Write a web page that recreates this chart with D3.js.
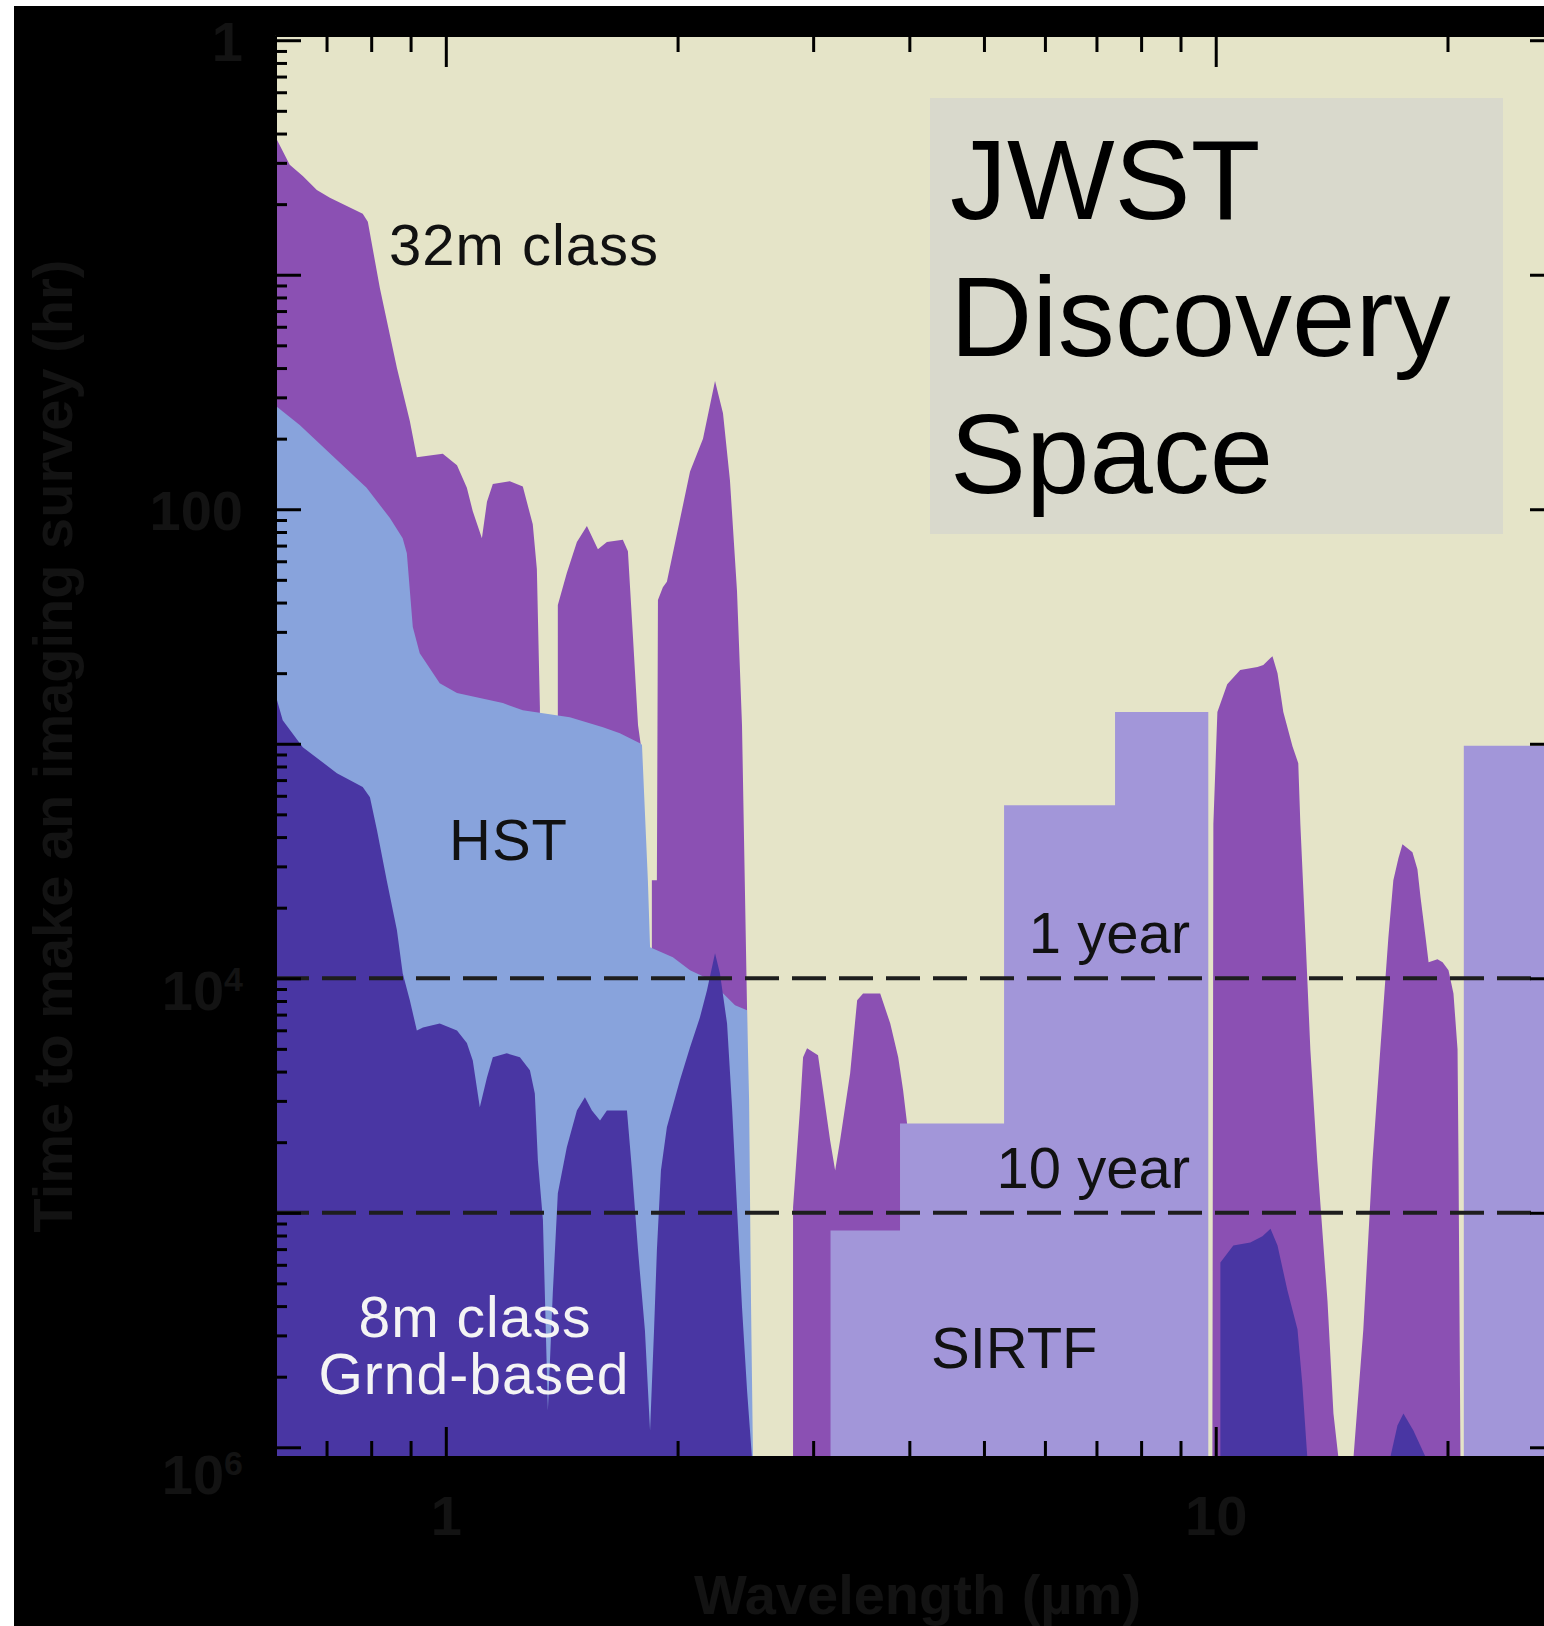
<!DOCTYPE html>
<html>
<head>
<meta charset="utf-8">
<script src="https://cdn.jsdelivr.net/npm/d3@7"></script>
<style>
  html, body { margin: 0; padding: 0; background: #ffffff; }
  svg { display: block; }
  text { font-family: "Liberation Sans", Arial, Helvetica, sans-serif; }
</style>
</head>
<body>
<svg id="chart" width="1544" height="1626"></svg>
<script>
// ------------------------------------------------------------------
// DATA  (wavelength in µm, time to make an imaging survey in hours)
// ------------------------------------------------------------------
const wavelengthDomain = [0.6, 28];
const timeDomain = [0.95, 1.1e6];

const xMajorTicks = [1, 10];
const xMajorTickLabels = ["1", "10"];
const xMinorTicks = [0.7, 0.8, 0.9, 2, 3, 4, 5, 6, 7, 8, 9, 20];

const yMajorTicks = [1, 10, 100, 1e3, 1e4, 1e5, 1e6];
const yLabelTicks = [1, 100, 1e4, 1e6];
const yLabelBase = ["1", "100", "10", "10"];
const yLabelExponent = ["", "", "4", "6"];

const surveyLineValues = [1e4, 1e5];
const surveyLineLabels = ["1 year", "10 year"];

// 32m class ground-based telescope (atmospheric windows)
const m32Segments = [
  [[0.6, 2.56], [0.627, 3.4], [0.652, 3.79], [0.68, 4.35], [0.707, 4.7], [0.78, 5.5],
   [0.792, 5.95], [0.821, 11.4], [0.864, 25], [0.898, 42], [0.917, 60], [0.953, 59],
   [0.991, 58], [1.034, 65], [1.065, 81], [1.084, 102], [1.114, 133], [1.131, 93],
   [1.151, 78], [1.211, 76], [1.259, 80], [1.297, 116], [1.313, 180], [1.325, 700]],
  [[1.398, 256], [1.436, 187], [1.48, 138], [1.525, 118], [1.576, 148], [1.619, 138],
   [1.698, 135], [1.724, 151], [1.75, 348], [1.777, 833], [1.792, 1014]],
  [[1.852, 3820], [1.88, 3820], [1.886, 244], [1.914, 215], [1.937, 204], [2.076, 69],
   [2.158, 50], [2.237, 28.4], [2.291, 39], [2.339, 75], [2.389, 223], [2.425, 833],
   [2.462, 13700]],
  [[2.825, 94800], [2.885, 35500], [2.911, 21700], [2.946, 19900], [3.044, 21300],
   [3.09, 30000], [3.156, 49000], [3.204, 66000], [3.252, 49000], [3.351, 25400],
   [3.422, 12400], [3.483, 11600], [3.666, 11600], [3.778, 15600], [3.869, 21700],
   [3.926, 30000], [3.973, 41600], [4.033, 236000]],
  [[9.9, 1.1e6], [9.93, 2200], [10.05, 733], [10.35, 557], [10.76, 485], [11.33, 471],
   [11.53, 462], [11.85, 423], [12.03, 500], [12.24, 733], [12.58, 1024], [12.8, 1210],
   [12.88, 2200], [13.08, 6690], [13.27, 20100], [13.55, 60400], [13.97, 239000],
   [14.22, 717000], [14.43, 1.1e6]],
  [[15.1, 1.1e6], [15.55, 314000], [15.98, 60400], [16.36, 20100], [16.76, 6690],
   [17.01, 3820], [17.27, 3080], [17.48, 2680], [18.01, 2900], [18.28, 3430],
   [18.45, 4510], [18.73, 6690], [18.9, 8550], [19.41, 8300], [19.71, 8550],
   [20.06, 9250], [20.36, 11600], [20.61, 20100], [20.67, 60400], [20.79, 1.1e6]]
];

// HST
const hstCurve = [
  [0.6, 36], [0.646, 43.7], [0.713, 59.3], [0.789, 81], [0.846, 109], [0.879, 133],
  [0.89, 154], [0.906, 318], [0.925, 411], [0.982, 552], [1.034, 608], [1.186, 671],
  [1.259, 719], [1.449, 770], [1.6, 850], [1.683, 901], [1.787, 994], [1.798, 1010],
  [1.83, 3820], [1.842, 7380], [1.972, 8140], [2.076, 9250], [2.184, 10000],
  [2.27, 11250], [2.375, 13040], [2.462, 13690], [2.477, 33150], [2.491, 236500],
  [2.506, 1.1e6]
];

// SIRTF (step blocks)
const sirtfSegments = [
  [[3.16, 119000], [3.89, 41600], [5.31, 1830], [7.4, 733], [9.78, 733]],
  [[21.0, 1020], [28, 1020]]
];

// 8m class ground-based
const groundSegments = [
  [[0.6, 608], [0.614, 793], [0.652, 1034], [0.722, 1335], [0.78, 1530], [0.797, 1690],
   [0.814, 2340], [0.838, 3820], [0.864, 6240], [0.879, 9520], [0.898, 12400],
   [0.917, 16700], [0.934, 16200], [0.982, 15600], [1.034, 16700], [1.065, 18900],
   [1.084, 22400], [1.107, 35500], [1.131, 26500], [1.151, 21700], [1.2, 20900],
   [1.248, 21700], [1.286, 24700], [1.305, 31000], [1.317, 59800], [1.337, 107000],
   [1.357, 697000], [1.377, 221000], [1.398, 82600], [1.436, 52600], [1.48, 36600],
   [1.516, 32200], [1.548, 36600], [1.586, 40400], [1.619, 36600], [1.719, 36600],
   [1.745, 65900], [1.777, 145000], [1.814, 318000], [1.842, 848000], [1.864, 318000],
   [1.88, 145000], [1.903, 65900], [1.937, 43200], [2.014, 27200], [2.076, 19700],
   [2.138, 14700], [2.184, 11250], [2.237, 7820], [2.27, 9520], [2.319, 15600],
   [2.354, 35500], [2.389, 94800], [2.425, 253000], [2.462, 573000], [2.498, 1.1e6]],
  [[10.14, 163000], [10.54, 138000], [11.09, 134000], [11.5, 126000], [11.78, 117000],
   [12.03, 138000], [12.39, 214000], [12.77, 314000], [12.96, 545000], [13.15, 1.1e6]],
  [[16.86, 1.1e6], [17.22, 807000], [17.53, 717000], [18.06, 848000], [18.73, 1.1e6]]
];

// ------------------------------------------------------------------
// RENDER
// ------------------------------------------------------------------
const W = 1544, H = 1626;
const plot = { left: 275, right: 1560, top: 35, bottom: 1457 };
const colors = {
  frame: "#000000",
  plotBg: "#e5e4c8",
  m32: "#8b50b3",
  hst: "#88a3dc",
  sirtf: "#a296d9",
  ground: "#4936a3",
  box: "#d9d9cc",
  axisText: "#131313"
};

const svg = d3.select("#chart");
svg.append("rect").attr("x", 0).attr("y", 0).attr("width", W).attr("height", H).attr("fill", "#ffffff");
svg.append("rect").attr("x", 14).attr("y", 6).attr("width", W - 14).attr("height", H - 6).attr("fill", colors.frame);

const x = d3.scaleLog().domain(wavelengthDomain).range([plot.left, plot.right]).clamp(true);
const y = d3.scaleLog().domain(timeDomain).range([plot.top, plot.bottom]).clamp(true);

svg.append("defs").append("clipPath").attr("id", "plotClip")
  .append("rect").attr("x", plot.left).attr("y", plot.top)
  .attr("width", plot.right - plot.left).attr("height", plot.bottom - plot.top);

svg.append("rect").attr("x", plot.left).attr("y", plot.top)
  .attr("width", plot.right - plot.left).attr("height", plot.bottom - plot.top)
  .attr("fill", colors.plotBg);

const g = svg.append("g").attr("clip-path", "url(#plotClip)");

const areaLin = d3.area().x(d => x(d[0])).y0(plot.bottom).y1(d => y(d[1])).curve(d3.curveLinear);
const areaStep = d3.area().x(d => x(d[0])).y0(plot.bottom).y1(d => y(d[1])).curve(d3.curveStepAfter);

g.selectAll("path.m32").data(m32Segments).join("path").attr("class", "m32")
  .attr("d", areaLin).attr("fill", colors.m32);
g.append("path").datum(hstCurve).attr("d", areaLin).attr("fill", colors.hst);
g.selectAll("path.sirtf").data(sirtfSegments).join("path").attr("class", "sirtf")
  .attr("d", areaStep).attr("fill", colors.sirtf);
g.selectAll("path.ground").data(groundSegments).join("path").attr("class", "ground")
  .attr("d", areaLin).attr("fill", colors.ground);

// survey-time dashed lines
const hLine = d3.line().x(d => x(d[0])).y(d => y(d[1]));
surveyLineValues.forEach(v => {
  g.append("path").datum([[wavelengthDomain[0], v], [wavelengthDomain[1], v]])
    .attr("d", hLine).attr("fill", "none").attr("stroke", "#1e1e1e")
    .attr("stroke-width", 4).attr("stroke-dasharray", "34,13");
});

// ------------------------------------------------------------------
// AXES (ticks point inwards)
// ------------------------------------------------------------------
const yMinorTicks = [];
for (let k = 0; k < 6; k++) {
  for (let m = 2; m <= 9; m++) yMinorTicks.push(Math.pow(10, k + 1) / m);
}

function styleAxis(sel) {
  sel.selectAll(".domain").attr("stroke", "#000").attr("stroke-width", 3);
  sel.selectAll(".tick line").attr("stroke", "#000").attr("stroke-width", 3);
}

// top
svg.append("g").attr("transform", `translate(0,${plot.top})`)
  .call(d3.axisBottom(x).tickValues(xMajorTicks).tickSize(32).tickSizeOuter(0).tickFormat(""))
  .call(styleAxis);
svg.append("g").attr("transform", `translate(0,${plot.top})`)
  .call(d3.axisBottom(x).tickValues(xMinorTicks).tickSize(17).tickSizeOuter(0).tickFormat(""))
  .call(styleAxis);

// bottom
const xAxisBottom = svg.append("g").attr("transform", `translate(0,${plot.bottom})`)
  .call(d3.axisBottom(x).tickValues(xMajorTicks).tickSize(-30).tickSizeOuter(0).tickPadding(38)
    .tickFormat((d, i) => xMajorTickLabels[i]))
  .call(styleAxis);
xAxisBottom.selectAll("text").attr("fill", colors.axisText)
  .style("font-size", "56px").style("font-weight", "bold");
svg.append("g").attr("transform", `translate(0,${plot.bottom})`)
  .call(d3.axisBottom(x).tickValues(xMinorTicks).tickSize(-16).tickSizeOuter(0).tickFormat(""))
  .call(styleAxis);

// left
svg.append("g").attr("transform", `translate(${plot.left},0)`)
  .call(d3.axisLeft(y).tickValues(yMajorTicks).tickSize(-26).tickSizeOuter(0).tickFormat(""))
  .call(styleAxis);
svg.append("g").attr("transform", `translate(${plot.left},0)`)
  .call(d3.axisLeft(y).tickValues(yMinorTicks).tickSize(-12).tickSizeOuter(0).tickFormat(""))
  .call(styleAxis);
const yLab = svg.append("g").attr("transform", `translate(${plot.left},0)`)
  .call(d3.axisLeft(y).tickValues(yLabelTicks).tickSize(0).tickSizeOuter(0).tickPadding(32).tickFormat(""));
yLab.select(".domain").remove();
yLab.selectAll(".tick text").each(function (d, i) {
  const t = d3.select(this)
    .attr("fill", colors.axisText).style("font-size", "56px").style("font-weight", "bold")
    .attr("dy", yLabelExponent[i] ? (i === yLabelTicks.length - 1 ? "0.82em" : "0.55em") : "0.36em");
  t.text(null);
  t.append("tspan").text(yLabelBase[i]);
  if (yLabelExponent[i]) {
    t.append("tspan").attr("dy", "-0.55em").style("font-size", "34px").text(yLabelExponent[i]);
  }
});

// right
svg.append("g").attr("transform", `translate(${plot.right},0)`)
  .call(d3.axisRight(y).tickValues(yMajorTicks).tickSize(-30).tickSizeOuter(0).tickFormat(""))
  .call(styleAxis);
svg.append("g").attr("transform", `translate(${plot.right},0)`)
  .call(d3.axisRight(y).tickValues(yMinorTicks).tickSize(-14).tickSizeOuter(0).tickFormat(""))
  .call(styleAxis);

// axis titles
svg.append("text")
  .attr("x", (plot.left + plot.right) / 2).attr("y", 1614)
  .attr("text-anchor", "middle").attr("fill", colors.axisText)
  .style("font-size", "56px").style("font-weight", "bold")
  .text("Wavelength (µm)");
svg.append("text")
  .attr("transform", `translate(72,${(plot.top + plot.bottom) / 2}) rotate(-90)`)
  .attr("text-anchor", "middle").attr("fill", colors.axisText)
  .style("font-size", "56px").style("font-weight", "bold")
  .text("Time to make an imaging survey (hr)");

// ------------------------------------------------------------------
// ANNOTATIONS
// ------------------------------------------------------------------
const ann = svg.append("g");
function label(txt, xp, yp, opts = {}) {
  return ann.append("text").attr("x", xp).attr("y", yp)
    .attr("text-anchor", opts.anchor || "start")
    .attr("fill", opts.fill || "#111")
    .style("font-size", (opts.size || 58) + "px")
    .style("letter-spacing", (opts.spacing || 0) + "px")
    .text(txt);
}

// JWST box
ann.append("rect").attr("x", 930).attr("y", 98).attr("width", 573).attr("height", 436).attr("fill", colors.box);
label("JWST", 950, 219, { size: 114, fill: "#000" });
label("Discovery", 950, 356, { size: 114, fill: "#000" });
label("Space", 950, 493, { size: 114, fill: "#000" });

label("32m class", 389, 265, { spacing: 1 });
label("HST", 449, 860, { spacing: 1 });
label("SIRTF", 931, 1368);
label("8m class", 475, 1337, { anchor: "middle", fill: "#f4f4f4", size: 57, spacing: 1 });
label("Grnd-based", 474, 1394, { anchor: "middle", fill: "#f4f4f4", size: 57, spacing: 1 });

surveyLineValues.forEach((v, i) => {
  label(surveyLineLabels[i], 1190, y(v) - 25, { anchor: "end" });
});
</script>
</body>
</html>
